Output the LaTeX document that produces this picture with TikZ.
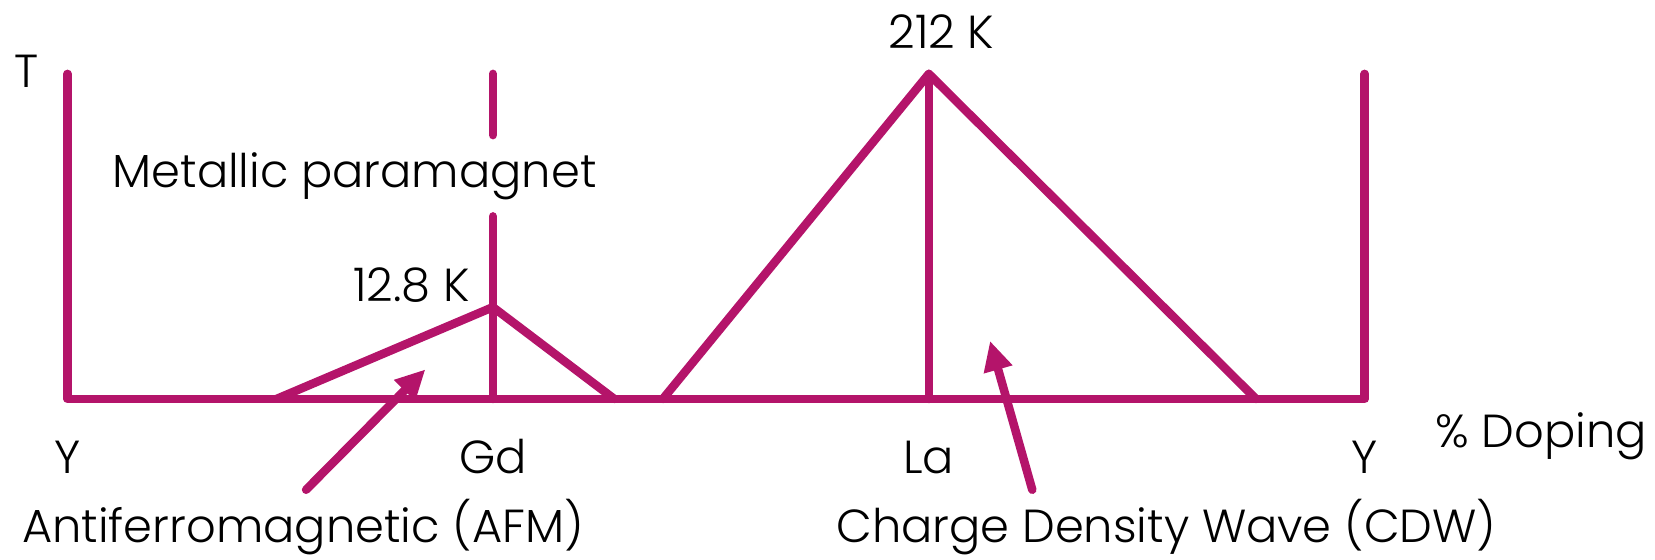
\documentclass[tikz,border=0pt]{standalone}
\usepackage{fontspec}
\setmainfont{Poppins}[UprightFont=* Light]
\usetikzlibrary{arrows.meta}
\definecolor{phasecol}{RGB}{180,20,106}
\tikzset{
  phaseline/.style={draw=phasecol,line width=4.6pt,line cap=round,line join=round},
  pointer/.style={draw=phasecol,line width=4.6pt,line cap=round,->},
  lbl/.style={font=\fontsize{25}{29}\selectfont,inner sep=0pt}
}
\begin{document}
\begin{tikzpicture}[x=0.02cm,y=-0.02cm,>={Triangle[length=16pt,width=15pt]}]
  \useasboundingbox (0,0) rectangle (1568,530);
  % axes and phase boundaries
  \coordinate (yl0) at (64,378);  \coordinate (yl1) at (64,70);
  \coordinate (yr0) at (1293,378); \coordinate (yr1) at (1293,70);
  \coordinate (gd0) at (467,378); \coordinate (gd1) at (467,205);
  \coordinate (gd2) at (467,128); \coordinate (gd3) at (467,70);
  \coordinate (la0) at (880,378); \coordinate (la1) at (880,70);
  \coordinate (afmL) at (262,378); \coordinate (afmT) at (467,291); \coordinate (afmR) at (582,378);
  \coordinate (cdwL) at (628,378); \coordinate (cdwR) at (1190,378);
  \draw[phaseline] (yl1) -- (yl0) -- (yr0) -- (yr1);
  \draw[phaseline] (gd0) -- (gd1);
  \draw[phaseline] (gd2) -- (gd3);
  \draw[phaseline] (afmL) -- (afmT) -- (afmR);
  \draw[phaseline] (cdwL) -- (la1) -- (cdwR);
  \draw[phaseline] (la0) -- (la1);
  % labels
  \node[lbl] (t) at (25,68) {T};
  \node[lbl] (tcdw) at (892,30) {212 K};
  \node[lbl] (para) at (336,167) {Metallic paramagnet};
  \node[lbl] (tafm) at (390,270) {12.8 K};
  \node[lbl] (yleft) at (64,433) {Y};
  \node[lbl] (gd) at (467,433) {Gd};
  \node[lbl] (la) at (880,433) {La};
  \node[lbl] (yright) at (1293,433) {Y};
  \node[lbl] (doping) at (1460,413) {\% Doping};
  \node[lbl] (afm) at (287,499) {Antiferromagnetic (AFM)};
  \node[lbl] (cdw) at (1105,499) {Charge Density Wave (CDW)};
  % pointers
  \coordinate (afmtail) at (290,464); \coordinate (afmtip) at (403,350);
  \coordinate (cdwtail) at (978,464); \coordinate (cdwtip) at (938,323);
  \draw[pointer] (afmtail) -- (afmtip);
  \draw[pointer] (cdwtail) -- (cdwtip);
\end{tikzpicture}
\end{document}
